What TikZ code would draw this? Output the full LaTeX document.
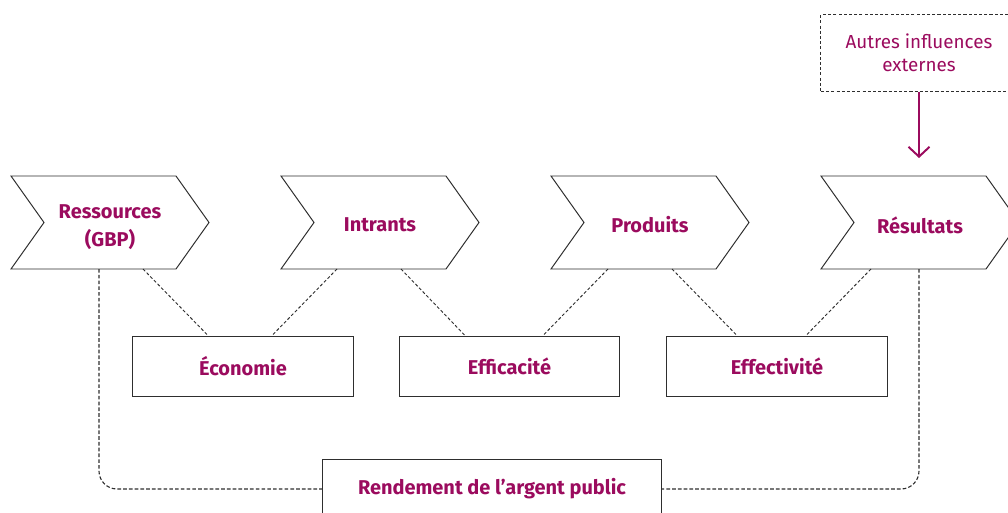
\documentclass[tikz,border=0pt]{standalone}
\usepackage{fontspec}
\setmainfont{Fira Sans}
\usetikzlibrary{arrows.meta,calc}
\definecolor{plum}{HTML}{9B0B5E}
\definecolor{rule}{HTML}{2E2E2E}

\tikzset{
  chevron/.style={draw=rule, line width=0.7pt, fill=white},
  label/.style={text=plum, font=\bfseries\fontsize{14.2}{19.5}\selectfont, align=center},
  box/.style={draw=rule, line width=0.7pt, fill=white, minimum width=5.5cm, minimum height=1.5cm, label},
  link/.style={draw=rule, line width=0.65pt, dash pattern=on 2.2pt off 1.5pt},
}

\begin{document}
\begin{tikzpicture}[x=0.025cm, y=-0.025cm]
	\useasboundingbox (0,0) rectangle (1008,513);
	\clip (0,0) rectangle (1008,513);
	% the four stages
	\draw[chevron] (11,176) -- (176,176) -- (209,222.5) -- (176,269) -- (11,269) -- (44,222.5) -- cycle;
	\node[label] (ress) at (110,227) {Ressources\\(GBP)};
	\draw[chevron] (281,176) -- (446,176) -- (479,222.5) -- (446,269) -- (281,269) -- (314,222.5) -- cycle;
	\node[label] (intr) at (380,225) {Intrants};
	\draw[chevron] (551,176) -- (716,176) -- (749,222.5) -- (716,269) -- (551,269) -- (584,222.5) -- cycle;
	\node[label] (prod) at (650,225) {Produits};
	\draw[chevron] (821,176) -- (986,176) -- (1019,222.5) -- (986,269) -- (821,269) -- (854,222.5) -- cycle;
	\node[label] (resu) at (920,225) {Résultats};
	% feet of the links under each stage
	\coordinate (ress-l) at (99,269);
	\coordinate (ress-r) at (143,269);
	\coordinate (intr-l) at (337,269);
	\coordinate (intr-r) at (401,269);
	\coordinate (prod-l) at (608,269);
	\coordinate (prod-r) at (672,269);
	\coordinate (resu-l) at (871,269);
	\coordinate (resu-r) at (919,269);
	% the three ratios
	\node[box] (eco) at (243,366) {Économie};
	\node[box] (effic) at (509.5,366) {Efficacité};
	\node[box] (effect) at (777,366) {Effectivité};
	\draw[link] (ress-r) -- ($(eco.north)+(-35,0)$);
	\draw[link] (intr-l) -- ($(eco.north)+(29,0)$);
	\draw[link] (intr-r) -- ($(effic.north)+(-44.5,0)$);
	\draw[link] (prod-l) -- ($(effic.north)+(33.5,0)$);
	\draw[link] (prod-r) -- ($(effect.north)+(-40,0)$);
	\draw[link] (resu-l) -- ($(effect.north)+(29,0)$);
	% overall value for money
	\node[box, minimum width=8.45cm] (vfm) at (492,489) {Rendement de l’argent public};
	\draw[link, line width=0.8pt, dash pattern=on 2.6pt off 1.5pt, rounded corners=0.45cm] (ress-l) |- (vfm.west);
	\draw[link, line width=0.8pt, dash pattern=on 2.6pt off 1.5pt, rounded corners=0.45cm] (resu-r) |- (vfm.east);
	% outside factors
	\node[draw=rule, line width=0.7pt, dash pattern=on 2.2pt off 1.5pt, minimum width=4.9cm, minimum height=1.9cm,
	      text=plum, font=\fontsize{13.4}{16.5}\selectfont, align=center] (ext) at (919,53) {Autres influences\\externes};
	\coordinate (resu-top) at (919,158);
	\draw[plum, line width=1.4pt, -{Straight Barb[length=7pt,width=15pt,line width=1.4pt]}] (ext) -- (resu-top);
\end{tikzpicture}
\end{document}
